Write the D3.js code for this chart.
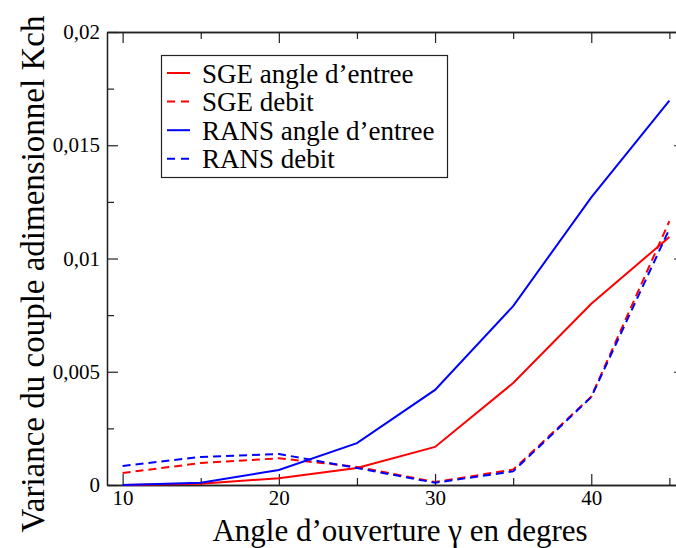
<!DOCTYPE html>
<html>
<head>
<meta charset="utf-8">
<script src="https://cdn.jsdelivr.net/npm/d3@7"></script>
<style>
  html, body { margin: 0; padding: 0; background: #fff; }
  svg { display: block; }
  svg text { font-family: "Liberation Serif", "Times New Roman", Tinos, "Noto Serif", "DejaVu Serif", serif; }
</style>
</head>
<body>
<svg id="chart" width="676" height="548"></svg>
<script>
// Opening angle (degrees)
const angles = [10, 15, 20, 25, 30, 35, 40, 45];

// Variance of the non-dimensional torque Kch for each case
const sgeAngle  = [0.0000, 0.00005, 0.00030, 0.00075, 0.00168, 0.00450, 0.00800, 0.01095];
const sgeDebit  = [0.00053, 0.00097, 0.00118, 0.00080, 0.00013, 0.00068, 0.00390, 0.01165];
const ransAngle = [0.0000, 0.00010, 0.00066, 0.00185, 0.00420, 0.00790, 0.01270, 0.01697];
const ransDebit = [0.00084, 0.00124, 0.00137, 0.00075, 0.00010, 0.00060, 0.00388, 0.01130];

const seriesNames = ["SGE angle d\u2019entree", "SGE debit", "RANS angle d\u2019entree", "RANS debit"];
const seriesValues = [sgeAngle, sgeDebit, ransAngle, ransDebit];
const seriesColors = ["#ff0000", "#ff0000", "#0000ff", "#0000ff"];
const seriesDashed = [false, true, false, true];

const xMajor = [10, 20, 30, 40];
const xMinor = [15, 25, 35, 45];
const yMajor = [0, 0.005, 0.01, 0.015, 0.02];
const yMinor = [0.0025, 0.0075, 0.0125, 0.0175];

const xTitle = "Angle d\u2019ouverture \u03b3 en degres";
const yTitle = "Variance du couple adimensionnel Kch";

const svg = d3.select("#chart");
const plotLeft = 107, plotRight = 685, plotTop = 32, plotBottom = 485;

const x = d3.scaleLinear().domain([9, 46]).range([plotLeft, plotRight]);
const y = d3.scaleLinear().domain([0, 0.02]).range([plotBottom, plotTop]);

const fmt = d => d === 0 ? "0" : String(d).replace(".", ",");
const axisColor = "#222";

function styleAxis(g) {
  g.attr("font-family", null);
  g.selectAll("path.domain").attr("stroke", axisColor).attr("stroke-width", 1.3);
  g.selectAll(".tick line").attr("stroke", axisColor).attr("stroke-width", 1.2);
  g.selectAll(".tick text").attr("fill", "#000").attr("font-size", 21);
}

// bottom axis: labelled majors, inward ticks
svg.append("g").attr("transform", `translate(0,${plotBottom})`)
  .call(d3.axisBottom(x).tickValues(xMajor).tickFormat(d3.format("d"))
        .tickSizeInner(-11).tickSizeOuter(0).tickPadding(5))
  .call(styleAxis);
svg.append("g").attr("transform", `translate(0,${plotBottom})`)
  .call(d3.axisBottom(x).tickValues(xMinor).tickFormat("")
        .tickSizeInner(-7).tickSizeOuter(0))
  .call(styleAxis);

// top axis: ticks only
svg.append("g").attr("transform", `translate(0,${plotTop})`)
  .call(d3.axisTop(x).tickValues(xMajor).tickFormat("")
        .tickSizeInner(-11).tickSizeOuter(0))
  .call(styleAxis);
svg.append("g").attr("transform", `translate(0,${plotTop})`)
  .call(d3.axisTop(x).tickValues(xMinor).tickFormat("")
        .tickSizeInner(-7).tickSizeOuter(0))
  .call(styleAxis);

// left axis
svg.append("g").attr("transform", `translate(${plotLeft},0)`)
  .call(d3.axisLeft(y).tickValues(yMajor).tickFormat(fmt)
        .tickSizeInner(-11).tickSizeOuter(0).tickPadding(7))
  .call(styleAxis);
svg.append("g").attr("transform", `translate(${plotLeft},0)`)
  .call(d3.axisLeft(y).tickValues(yMinor).tickFormat("")
        .tickSizeInner(-7).tickSizeOuter(0))
  .call(styleAxis);

// right axis
svg.append("g").attr("transform", `translate(${plotRight},0)`)
  .call(d3.axisRight(y).tickValues(yMajor).tickFormat("")
        .tickSizeInner(-11).tickSizeOuter(0))
  .call(styleAxis);
svg.append("g").attr("transform", `translate(${plotRight},0)`)
  .call(d3.axisRight(y).tickValues(yMinor).tickFormat("")
        .tickSizeInner(-7).tickSizeOuter(0))
  .call(styleAxis);

// curves
const line = d3.line().x(d => x(d[0])).y(d => y(d[1]));
seriesValues.forEach((vals, i) => {
  svg.append("path")
    .datum(angles.map((a, k) => [a, vals[k]]))
    .attr("fill", "none")
    .attr("stroke", seriesColors[i])
    .attr("stroke-width", 2)
    .attr("stroke-dasharray", seriesDashed[i] ? "8,5" : null)
    .attr("d", line);
});

// legend
const legend = svg.append("g");
legend.append("rect")
  .attr("x", 161.5).attr("y", 55.5).attr("width", 286).attr("height", 122)
  .attr("fill", "#fff").attr("stroke", axisColor).attr("stroke-width", 1.2);
seriesNames.forEach((name, i) => {
  const ly = 73 + i * 28.6;
  legend.append("line")
    .attr("x1", 167).attr("x2", 190).attr("y1", ly).attr("y2", ly)
    .attr("stroke", seriesColors[i]).attr("stroke-width", 2)
    .attr("stroke-dasharray", seriesDashed[i] ? "8,6" : null);
  legend.append("text")
    .attr("x", 202).attr("y", ly + 9.5)
    .attr("font-size", 27).attr("fill", "#000")
    .text(name);
});

// axis titles
svg.append("text")
  .attr("x", 400).attr("y", 541)
  .attr("text-anchor", "middle").attr("font-size", 31).attr("fill", "#000")
  .text(xTitle);
svg.append("text")
  .attr("transform", "translate(44,274) rotate(-90)")
  .attr("text-anchor", "middle").attr("font-size", 33).attr("fill", "#000")
  .text(yTitle);
</script>
</body>
</html>
